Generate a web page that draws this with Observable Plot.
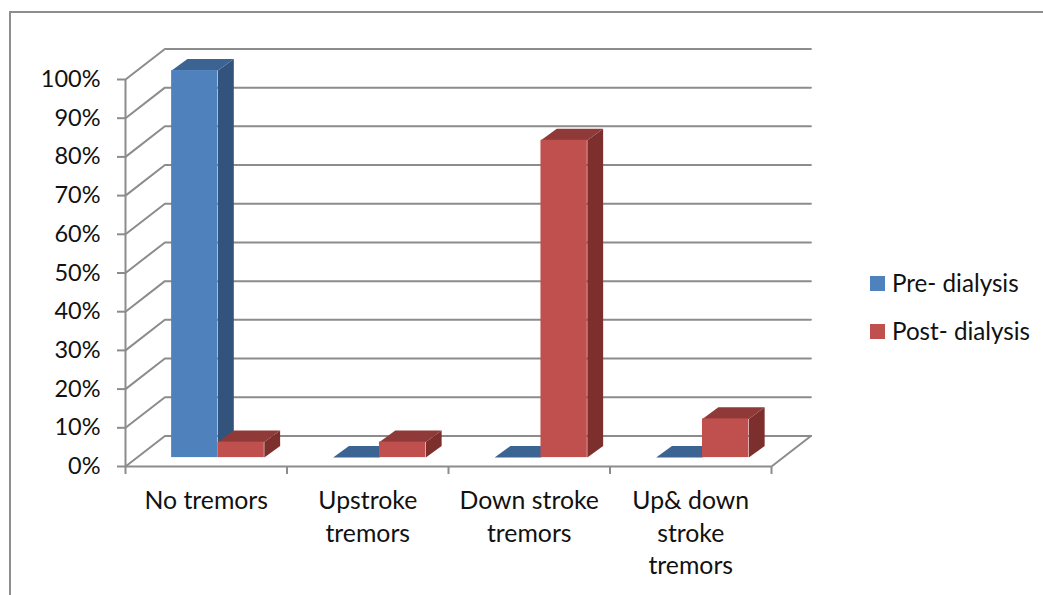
<!DOCTYPE html>
<html>
<head>
<meta charset="utf-8">
<script src="https://cdn.jsdelivr.net/npm/d3@7"></script>
<script src="https://cdn.jsdelivr.net/npm/@observablehq/plot@0.6"></script>
<style>
  html, body { margin: 0; padding: 0; background: #fff; overflow: hidden; }
  #chart { position: relative; width: 1043px; height: 595px; font-family: Lato, sans-serif; }
  #frame { position: absolute; left: 9px; top: 11px; right: 0; bottom: 0; border-top: 2px solid #8e8e8e; border-left: 2px solid #8e8e8e; box-sizing: border-box; }
  .sw { position: absolute; left: 870px; width: 15px; height: 15px; }
  .lb { position: absolute; left: 892px; font-size: 24.2px; line-height: 30px; color: #111; white-space: nowrap; }
  svg { position: absolute; left: 0; top: 0; }
</style>
</head>
<body>
<div id="chart"><div id="frame"></div></div>
<script>
const categories = ["No tremors", "Upstroke\ntremors", "Down stroke\ntremors", "Up& down\nstroke\ntremors"];
const preDialysis = [100, 0, 0, 0];
const postDialysis = [4, 4, 82, 10];
const percentTicks = [0, 10, 20, 30, 40, 50, 60, 70, 80, 90, 100];
const seriesNames = ["Pre- dialysis", "Post- dialysis"];
const frontColors = ["#4f81bd", "#c0504d"];
const topColors = ["#3c6493", "#8f3a38"];
const sideColors = ["#31537c", "#7c2f2d"];
const gridColor = "#8c8c8c";

// 3-D projection, in units of the x (category) and y (percent) scales
const wallDx = 0.244, wallDy = 7.9;     // depth of the chart box
const barInset = 0.2856, barW = 0.287;  // group position within a category
const baseDy = 2.3;                     // bars stand part-way back on the floor
const barDx = 0.098, barDy = 3.0;       // depth of a bar

const wallGrid = percentTicks.flatMap(p => [
  {id: p, x: 0, y: p},
  {id: p, x: wallDx, y: p + wallDy},
  {id: p, x: 4 + wallDx, y: p + wallDy}
]);
const floorEdge = [
  {x: 0, y: 0}, {x: 4, y: 0}, {x: 4 + wallDx, y: wallDy}
];

function faces(values, s) {
  const front = [], top = [], side = [];
  values.forEach((v, i) => {
    const x1 = i + barInset + s * barW, x2 = x1 + barW;
    const y1 = baseDy, y2 = baseDy + v;
    front.push({x1, x2, y1, y2});
    top.push(
      {id: i, x: x1, y: y2}, {id: i, x: x2, y: y2},
      {id: i, x: x2 + barDx, y: y2 + barDy}, {id: i, x: x1 + barDx, y: y2 + barDy});
    if (v > 0) side.push(
      {id: i, x: x2, y: y1}, {id: i, x: x2, y: y2},
      {id: i, x: x2 + barDx, y: y2 + barDy}, {id: i, x: x2 + barDx, y: y1 + barDy});
  });
  return {front, top, side};
}

function barMarks(values, s) {
  const f = faces(values, s);
  return [
    Plot.line(f.side, {x: "x", y: "y", z: "id", fill: sideColors[s], stroke: "none"}),
    Plot.line(f.top, {x: "x", y: "y", z: "id", fill: topColors[s], stroke: "none"}),
    Plot.rect(f.front.filter(d => d.y2 > d.y1), {x1: "x1", x2: "x2", y1: "y1", y2: "y2", fill: frontColors[s]})
  ];
}

const labels = categories.map((c, i) => ({x: i + 0.5, y: 0, text: c}));

const plot = Plot.plot({
  width: 1043, height: 595,
  marginLeft: 125, marginRight: 272, marginTop: 79, marginBottom: 129,
  style: {background: "transparent", fontFamily: "Lato, sans-serif", overflow: "visible"},
  x: {type: "linear", domain: [0, 4], axis: null},
  y: {type: "linear", domain: [0, 100], axis: null},
  marks: [
    Plot.line(wallGrid, {x: "x", y: "y", z: "id", stroke: gridColor, strokeWidth: 2}),
    Plot.line(floorEdge, {x: "x", y: "y", stroke: gridColor, strokeWidth: 2}),
    Plot.ruleX([0], {y1: 0, y2: 100, stroke: gridColor, strokeWidth: 2}),
    Plot.axisX([0, 1, 2, 3, 4], {anchor: "bottom", tickSize: 8, tickFormat: () => "", stroke: gridColor, strokeWidth: 2, label: null}),
    Plot.axisY(percentTicks, {anchor: "left", tickSize: 8, tickPadding: 17, tickFormat: d => d + "%", stroke: gridColor, strokeWidth: 2, fill: "#111", fontSize: 23.5, label: null}),
    ...barMarks(preDialysis, 0),
    ...barMarks(postDialysis, 1),
    Plot.text(labels, {x: "x", y: "y", text: "text", dy: 20, lineAnchor: "top", lineHeight: 1.3, fontSize: 24.8, fill: "#111"})
  ]
});
const chart = document.getElementById("chart");
chart.appendChild(plot);

seriesNames.forEach((name, i) => {
  const sw = document.createElement("div");
  sw.className = "sw";
  sw.style.top = (276 + i * 48) + "px";
  sw.style.background = frontColors[i];
  chart.appendChild(sw);
  const lb = document.createElement("div");
  lb.className = "lb";
  lb.style.top = (268 + i * 48) + "px";
  lb.textContent = name;
  chart.appendChild(lb);
});
</script>
</body>
</html>
